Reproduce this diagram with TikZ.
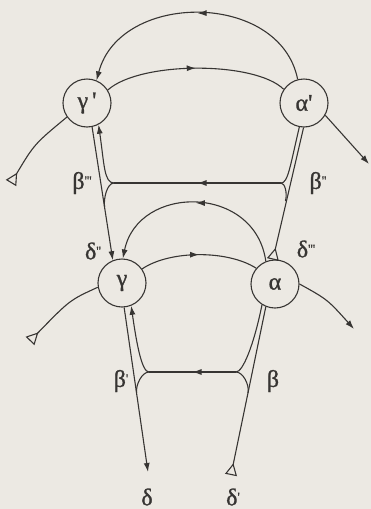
\documentclass[tikz,border=0pt]{standalone}
\usepackage{fontspec}
\setmainfont{Liberation Serif}
\newfontfamily\gk{Liberation Serif}[FakeBold=1.2]
\usetikzlibrary{arrows.meta,decorations.markings}
\definecolor{paper}{RGB}{236,233,227}
\definecolor{ink}{RGB}{55,53,51}
\newcommand\pr{\textquotesingle}
\newcommand\tp[1]{\raisebox{4pt}{\fontsize{13}{13}\selectfont #1}}
\begin{document}
\begin{tikzpicture}[x=1pt,y=-1pt,
  circ/.style={circle, draw=ink, line width=1.1pt, minimum size=48pt, inner sep=0pt,
               font=\gk\fontsize{24}{27}\selectfont, text=ink},
  lab/.style={font=\gk\fontsize{24}{27}\selectfont, text=ink, inner sep=0pt},
  con/.style={draw=ink, line width=1.1pt},
  tip/.style={-{Latex[length=9pt,width=6pt]}},
  opentip/.style={-{Triangle[open,reversed,length=12pt,width=12pt]}},
  midarrow/.style={postaction={decorate},
    decoration={markings, mark=at position 0.5 with {\arrow{Latex[length=9pt,width=6pt]}}}}]
\fill[paper] (0,0) rectangle (371,509);
\useasboundingbox (0,0) rectangle (371,509);

% nodes
\node[circ] (gp) at (87,103) {γ\,\pr};
\node[circ] (ap) at (304,103) {α\pr};
\node[circ] (g)  at (122,283) {γ};
\node[circ] (a)  at (275,284) {α};

% free ends and junctions
\coordinate (T1) at (11,183);
\coordinate (T2) at (30,341);
\coordinate (T3) at (231,475);
\coordinate (O1) at (369,164);
\coordinate (O2) at (354,329);
\coordinate (D)  at (148,472);
\coordinate (J1L) at (114,183);
\coordinate (J1R) at (281,183);
\coordinate (M1L) at (104.6,207);
\coordinate (M1R) at (285.5,201);
\coordinate (J2L) at (149,372);
\coordinate (J2R) at (236,372);
\coordinate (M2L) at (136.6,393);
\coordinate (M2R) at (248,393);

% upper arcs
\draw[con,tip,midarrow] (ap.105) .. controls (280,-9) and (120,-9) .. (gp.67);
\draw[con,midarrow] (gp.32) .. controls (140,61) and (255,61) .. (ap.146);

% outer legs of upper pair
\draw[con,opentip] (gp.215) .. controls (34.4,144) .. (T1);
\draw[con,tip] (ap.-30) -- (O1);

% upper ladder
\draw[con,tip] (gp.-78) -- (g.112);
\draw[con,opentip] (ap.-91) -- (a.95);
\draw[con,midarrow] (J1R) -- (J1L);
\draw[con,tip] (J1L) .. controls (104,183) and (104.3,164.2) .. (gp.-62);
\draw[con] (J1L) .. controls (107,183) and (103.3,199) .. (M1L);
\draw[con] (J1R) .. controls (288,183) and (290,166.6) .. (ap.-101);
\draw[con] (J1R) .. controls (285,183) and (287.4,193) .. (M1R);

% lower arcs
\draw[con,tip,midarrow] (a.112) .. controls (255,184) and (138,184) .. (g.88);
\draw[con,midarrow] (g.35) .. controls (170,250) and (228,250) .. (a.140);

% outer legs of lower pair
\draw[con,opentip] (g.190) .. controls (69.8,300) .. (T2);
\draw[con,tip] (a.0) .. controls (327.5,299.5) .. (O2);

% lower ladder
\draw[con,tip] (g.-85) -- (D);
\draw[con,opentip] (a.-112) -- (T3);
\draw[con,midarrow] (J2R) -- (J2L);
\draw[con,tip] (J2L) .. controls (142,372) and (136.8,345.3) .. (g.-68);
\draw[con] (J2L) .. controls (142,372) and (135.4,385) .. (M2L);
\draw[con] (J2R) .. controls (243,372) and (254,344.4) .. (a.-122);
\draw[con] (J2R) .. controls (243,372) and (249.7,385) .. (M2R);

% labels
\node[lab] (lb3) at (82,183) {β\tp{\pr\pr\pr}};
\node[lab] (lb2) at (318,183) {β\tp{\pr\pr}};
\node[lab] (ld2) at (93,251) {δ\tp{\pr\pr}};
\node[lab] (ld3) at (306,249) {δ\tp{\pr\pr\pr}};
\node[lab] (lb1) at (121,381) {β\tp{\pr}};
\node[lab] (lb0) at (273,381) {β};
\node[lab] (ld0) at (147,497) {δ};
\node[lab] (ld1) at (233,497) {δ\tp{\pr}};
\end{tikzpicture}
\end{document}
